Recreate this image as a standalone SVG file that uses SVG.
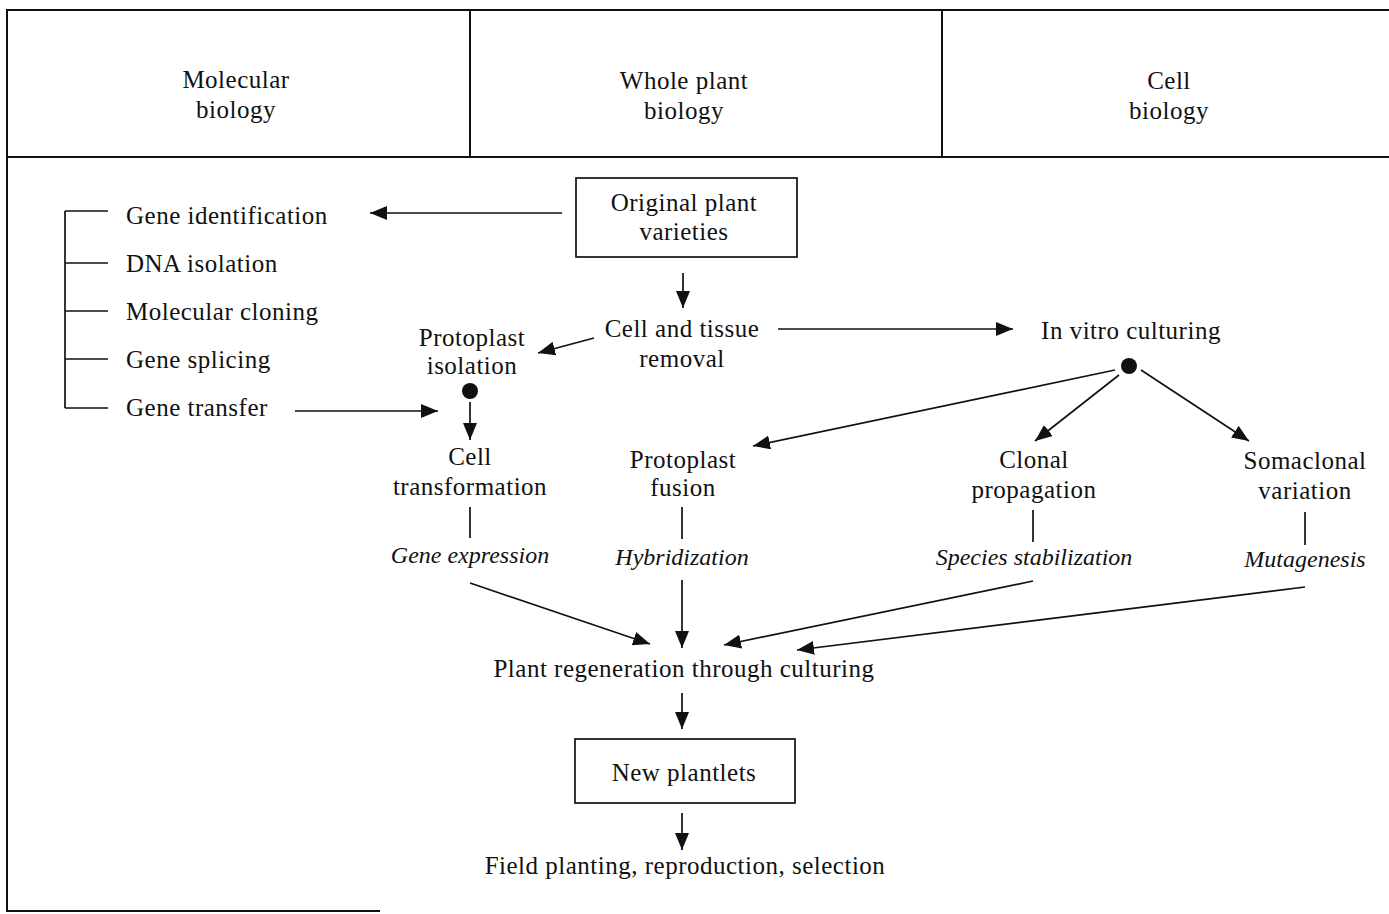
<svg xmlns="http://www.w3.org/2000/svg" width="1389" height="914" viewBox="0 0 1389 914">
<style>
text{font-family:"Liberation Serif","Times New Roman",serif;font-size:25px;letter-spacing:0.5px;fill:#111;text-anchor:middle}
.l{text-anchor:start}
.i{font-style:italic;font-size:24px;letter-spacing:0}
.frame{stroke:#111;stroke-width:2;fill:none}
.c{stroke:#111;stroke-width:1.7;fill:none}
.box{stroke:#111;stroke-width:1.7;fill:#fff}
</style>
<defs>
<marker id="a" markerUnits="userSpaceOnUse" markerWidth="18" markerHeight="14" refX="17" refY="7" orient="auto">
<path d="M0,0 L17,7 L0,14 Z" fill="#111"/>
</marker>
</defs>
<rect width="1389" height="914" fill="#fff"/>
<g id="frame">
<path class="frame" d="M7,912 V10 H1389 M7,157 H1389 M470,10 V157 M942,10 V157 M7,911 H380"/>
</g>
<g id="header-molecular"><text x="236" y="88">Molecular</text><text x="236" y="118">biology</text></g>
<g id="header-whole"><text x="684" y="89">Whole plant</text><text x="684" y="119">biology</text></g>
<g id="header-cell"><text x="1169" y="89">Cell</text><text x="1169" y="119">biology</text></g>

<g id="connectors">
<path class="c" d="M65,211 V408 M65,211 H108 M65,263 H108 M65,311 H108 M65,359 H108 M65,408 H108"/>
<line class="c" x1="562" y1="213" x2="370" y2="213" marker-end="url(#a)"/>
<line class="c" x1="295" y1="411" x2="438" y2="411" marker-end="url(#a)"/>
<line class="c" x1="683" y1="273" x2="683" y2="308" marker-end="url(#a)"/>
<line class="c" x1="594" y1="338" x2="538" y2="353" marker-end="url(#a)"/>
<line class="c" x1="470" y1="402" x2="470" y2="440" marker-end="url(#a)"/>
<line class="c" x1="778" y1="329" x2="1013" y2="329" marker-end="url(#a)"/>
<line class="c" x1="1115" y1="370" x2="753" y2="446" marker-end="url(#a)"/>
<line class="c" x1="1119" y1="375" x2="1035" y2="441" marker-end="url(#a)"/>
<line class="c" x1="1141" y1="370" x2="1249" y2="441" marker-end="url(#a)"/>
<line class="c" x1="470" y1="507" x2="470" y2="538"/>
<line class="c" x1="682" y1="507" x2="682" y2="539"/>
<line class="c" x1="1033" y1="510" x2="1033" y2="542"/>
<line class="c" x1="1305" y1="512" x2="1305" y2="545"/>
<line class="c" x1="470" y1="583" x2="650" y2="644" marker-end="url(#a)"/>
<line class="c" x1="682" y1="580" x2="682" y2="648" marker-end="url(#a)"/>
<line class="c" x1="1033" y1="581" x2="724" y2="645" marker-end="url(#a)"/>
<line class="c" x1="1305" y1="587" x2="797" y2="650" marker-end="url(#a)"/>
<line class="c" x1="682" y1="693" x2="682" y2="729" marker-end="url(#a)"/>
<line class="c" x1="682" y1="813" x2="682" y2="850" marker-end="url(#a)"/>
<circle cx="470" cy="391" r="8" fill="#111"/>
<circle cx="1129" cy="366" r="8" fill="#111"/>
</g>

<g id="node-original"><rect class="box" x="576" y="178" width="221" height="79"/><text x="684" y="211">Original plant</text><text x="684" y="240">varieties</text></g>
<g id="node-gene-list">
<text class="l" x="126" y="224">Gene identification</text>
<text class="l" x="126" y="272">DNA isolation</text>
<text class="l" x="126" y="320">Molecular cloning</text>
<text class="l" x="126" y="368">Gene splicing</text>
<text class="l" x="126" y="416">Gene transfer</text>
</g>
<g id="node-cell-tissue"><text x="682" y="337">Cell and tissue</text><text x="682" y="367">removal</text></g>
<g id="node-protoplast-isolation"><text x="472" y="346">Protoplast</text><text x="472" y="374">isolation</text></g>
<g id="node-in-vitro"><text x="1131" y="339">In vitro culturing</text></g>
<g id="node-cell-transformation"><text x="470" y="465">Cell</text><text x="470" y="495">transformation</text><text class="i" x="470" y="563">Gene expression</text></g>
<g id="node-protoplast-fusion"><text x="683" y="468">Protoplast</text><text x="683" y="496">fusion</text><text class="i" x="682" y="565">Hybridization</text></g>
<g id="node-clonal"><text x="1034" y="468">Clonal</text><text x="1034" y="498">propagation</text><text class="i" x="1034" y="565">Species stabilization</text></g>
<g id="node-somaclonal"><text x="1305" y="469">Somaclonal</text><text x="1305" y="499">variation</text><text class="i" x="1305" y="567">Mutagenesis</text></g>
<g id="node-regeneration"><text x="684" y="677">Plant regeneration through culturing</text></g>
<g id="node-new-plantlets"><rect class="box" x="575" y="739" width="220" height="64"/><text x="684" y="781">New plantlets</text></g>
<g id="node-field"><text x="685" y="874">Field planting, reproduction, selection</text></g>
</svg>
